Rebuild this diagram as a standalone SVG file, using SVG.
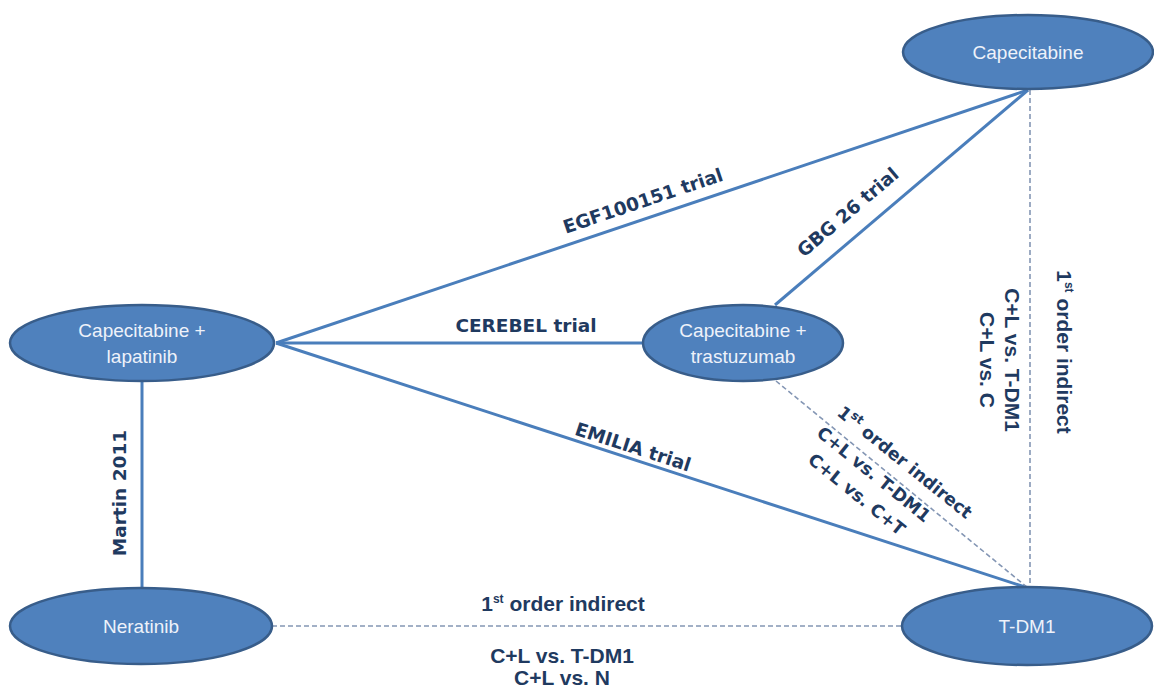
<svg xmlns="http://www.w3.org/2000/svg" width="1154" height="689" viewBox="0 0 1154 689">
<style>
.node{fill:#4f81bd;stroke:#385d8a;stroke-width:2.5}
.nt{font-family:"Liberation Sans",Arial,sans-serif;font-size:19px;fill:#eef2fa;text-anchor:middle}
.solid{stroke:#4a7ebb;stroke-width:3;fill:none}
.dash{stroke:#8496b4;stroke-width:1.6;stroke-dasharray:5 3;fill:none}
.lbl{font-family:"DejaVu Sans",Verdana,sans-serif;font-weight:bold;font-size:18.5px;fill:#1f3a60;text-anchor:middle}
.lbn{font-family:"Liberation Sans",Arial,sans-serif;font-weight:bold;font-size:21px;fill:#1f3a60;text-anchor:middle}
.sup{font-size:12px}
</style>
<rect width="1154" height="689" fill="#ffffff"/>
<g id="connectors">
<line class="solid" x1="276" y1="343" x2="1028" y2="90"/>
<line class="solid" x1="775" y1="305" x2="1028" y2="90"/>
<line class="solid" x1="276" y1="343" x2="643" y2="343"/>
<line class="solid" x1="276" y1="343" x2="1028" y2="588"/>
<line class="solid" x1="142" y1="381" x2="142" y2="588"/>
<line class="dash" x1="272" y1="626" x2="902" y2="626"/>
<line class="dash" x1="1030" y1="90" x2="1030" y2="588"/>
<line class="dash" x1="776" y1="381" x2="1028" y2="588"/>
<text class="lbl" transform="translate(645,207) rotate(-18.6)">EGF100151 trial</text>
<text class="lbl" transform="translate(852,217) rotate(-40.4)">GBG 26 trial</text>
<text class="lbl" x="526" y="332">CEREBEL trial</text>
<text class="lbl" transform="translate(631,453) rotate(18)">EMILIA trial</text>
<text class="lbl" transform="translate(126,493) rotate(-90)">Martin 2011</text>
<text class="lbl" style="font-size:17.5px" transform="translate(901,467) rotate(39)">1<tspan class="sup" dy="-7">st</tspan><tspan dy="7"> order indirect</tspan></text>
<text class="lbl" style="font-size:17.5px" transform="translate(870,479) rotate(39)">C+L vs. T-DM1</text>
<text class="lbl" style="font-size:17.5px" transform="translate(853,499) rotate(39)">C+L vs. C+T</text>
<text class="lbn" transform="translate(1057,352) rotate(90)">1<tspan class="sup" dy="-8">st</tspan><tspan dy="8"> order indirect</tspan></text>
<text class="lbn" transform="translate(1005,360) rotate(90)">C+L vs. T-DM1</text>
<text class="lbn" transform="translate(980,360) rotate(90)">C+L vs. C</text>
<text class="lbn" x="563" y="611">1<tspan class="sup" dy="-8">st</tspan><tspan dy="8"> order indirect</tspan></text>
<text class="lbn" x="562" y="663">C+L vs. T-DM1</text>
<text class="lbn" x="562" y="685">C+L vs. N</text>
</g>
<g id="capecitabine">
<ellipse class="node" cx="1028" cy="52" rx="125" ry="37"/>
<text class="nt" x="1028" y="59">Capecitabine</text>
</g>
<g id="cap-lapatinib">
<ellipse class="node" cx="142" cy="343" rx="132" ry="38"/>
<text class="nt" x="142" y="337">Capecitabine +</text>
<text class="nt" x="142" y="363">lapatinib</text>
</g>
<g id="cap-trastuzumab">
<ellipse class="node" cx="743" cy="343" rx="100" ry="38"/>
<text class="nt" x="743" y="337">Capecitabine +</text>
<text class="nt" x="743" y="363">trastuzumab</text>
</g>
<g id="neratinib">
<ellipse class="node" cx="141" cy="626" rx="131" ry="38"/>
<text class="nt" x="141" y="633">Neratinib</text>
</g>
<g id="tdm1">
<ellipse class="node" cx="1027" cy="626" rx="125" ry="39"/>
<text class="nt" x="1027" y="633">T-DM1</text>
</g>
</svg>
